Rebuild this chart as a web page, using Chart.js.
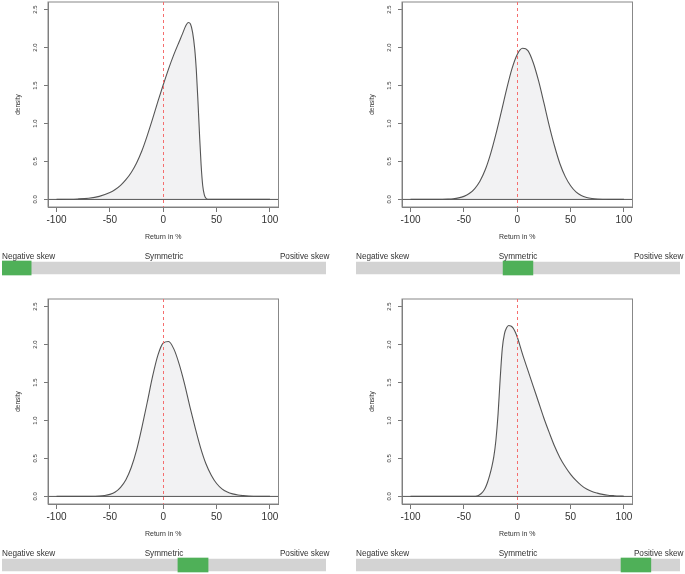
<!DOCTYPE html>
<html>
<head>
<meta charset="utf-8">
<script src="https://cdn.jsdelivr.net/npm/chart.js@4.4.0/dist/chart.umd.min.js"></script>
<style>
  body { margin: 0; background: #fff; width: 685px; height: 574px; position: relative; overflow: hidden;
         font-family: "Liberation Sans", Arial, sans-serif; }
  canvas { position: absolute; }
  .lab { position: absolute; font-size: 8.2px; line-height: 10px; height: 10px; color: #333; white-space: nowrap; }
</style>
</head>
<body>
<script>
// Axes
const xTicks = [-100, -50, 0, 50, 100]
const yTicks = [0, 0.5, 1, 1.5, 2, 2.5]
const skewLabels = ["Negative skew", "Symmetric", "Positive skew"]

// Position du marqueur vert sur la barre (0 = gauche, 1 = droite)
const skewLow = [0, 0.454, 0.543, 0.818]
const skewHigh = [0.09, 0.546, 0.636, 0.91]

// Panneau 1 : asymetrie negative
const p1X = [-100, -90, -80, -70, -60, -50, -45, -40, -35, -30, -25, -20, -15, -10, -5, 0, 5, 10, 15, 18, 21, 23.5, 25.5, 27.5, 29.5,
             31, 32.5, 34, 35.5, 37, 38.5, 40, 42, 45, 50, 60, 70, 80, 90, 100]
const p1Y = [0.0005, 0.002, 0.006, 0.016, 0.04, 0.09, 0.13, 0.185, 0.26, 0.355, 0.48, 0.64, 0.84, 1.06, 1.29, 1.51, 1.72, 1.91, 2.08, 2.18, 2.285, 2.33, 2.31, 2.2, 1.98,
             1.7, 1.3, 0.85, 0.45, 0.18, 0.06, 0.015, 0.002, 0, 0, 0, 0, 0, 0, 0]

// Panneaux 2 et 3 : pas de 5
const xStep5 = [-100, -95, -90, -85, -80, -75, -70, -65, -60, -55, -50, -45, -40, -35, -30, -25, -20, -15, -10, -5, 0,
                5, 10, 15, 20, 25, 30, 35, 40, 45, 50, 55, 60, 65, 70, 75, 80, 85, 90, 95, 100]
const p2Y = [0, 0, 0, 0.0001, 0.0002, 0.0006, 0.0015, 0.004, 0.009, 0.02, 0.04, 0.077, 0.14, 0.24, 0.39, 0.6, 0.86, 1.15, 1.45, 1.72, 1.91,
             1.99, 1.96, 1.8, 1.56, 1.27, 0.97, 0.7, 0.47, 0.3, 0.18, 0.1, 0.052, 0.026, 0.012, 0.005, 0.002, 0.001, 0, 0, 0]
const p3Y = [0, 0, 0, 0, 0, 0.0002, 0.0006, 0.002, 0.0045, 0.012, 0.027, 0.058, 0.12, 0.22, 0.38, 0.61, 0.91, 1.24, 1.58, 1.86, 2.02,
             2.04, 1.94, 1.74, 1.48, 1.18, 0.9, 0.64, 0.43, 0.28, 0.17, 0.1, 0.058, 0.033, 0.018, 0.01, 0.005, 0.0025, 0.001, 0.0005, 0]

// Panneau 4 : asymetrie positive
const p4X = [-100, -80, -60, -45, -40, -38, -36, -34, -32, -30, -28, -26, -24, -22, -20, -18, -16, -14, -12, -10, -8, -6, -4, -2, 0,
             5, 10, 15, 20, 25, 30, 35, 40, 45, 50, 55, 60, 65, 70, 75, 80, 85, 90, 95, 100]
const p4Y = [0, 0, 0, 0, 0, 0.004, 0.015, 0.035, 0.065, 0.11, 0.18, 0.27, 0.38, 0.52, 0.74, 1.08, 1.55, 1.95, 2.14, 2.22, 2.25, 2.245, 2.22, 2.17, 2.1,
             1.87, 1.66, 1.45, 1.24, 1.03, 0.84, 0.66, 0.51, 0.39, 0.29, 0.21, 0.145, 0.097, 0.064, 0.043, 0.027, 0.016, 0.01, 0.005, 0.003]

const panels = [[p1X, p1Y], [xStep5, p2Y], [xStep5, p3Y], [p4X, p4Y]]

const fam = '"Liberation Sans", Arial, sans-serif'

// Les elements facon R : ligne h=0, cadre, ligne pointillee rouge, labels y tournes
const rPlot = {
  id: "rPlot",
  afterDatasetsDraw(chart) {
    const { ctx, chartArea: a, scales: { y } } = chart
    ctx.save()
    ctx.lineWidth = 1
    const y0 = y.getPixelForValue(0)
    ctx.strokeStyle = "#555"
    ctx.beginPath(); ctx.moveTo(a.left, y0); ctx.lineTo(a.right, y0); ctx.stroke()
    ctx.strokeStyle = "#888"
    ctx.strokeRect(a.left, a.top, a.right - a.left, a.bottom - a.top)
    ctx.restore()
  },
  afterDraw(chart) {
    const { ctx, chartArea: a, scales: { x, y } } = chart
    ctx.save()
    // ligne verticale en x = 0
    const x0 = Math.round(x.getPixelForValue(0)) + 0.5
    ctx.lineWidth = 1
    ctx.strokeStyle = "rgb(245, 110, 110)"
    ctx.setLineDash([3, 3])
    ctx.beginPath(); ctx.moveTo(x0, a.top); ctx.lineTo(x0, a.bottom); ctx.stroke()
    ctx.setLineDash([])
    // labels de l'axe y, tournes comme dans R
    ctx.fillStyle = "#333"
    ctx.font = "6px " + fam
    ctx.textAlign = "center"
    ctx.textBaseline = "middle"
    yTicks.forEach(v => {
      ctx.save()
      ctx.translate(a.left - 13, y.getPixelForValue(v))
      ctx.rotate(-Math.PI / 2)
      ctx.fillText(v.toFixed(1), 0, 0)
      ctx.restore()
    })
    ctx.restore()
  }
}

function addCanvas(left, top, w, h) {
  const c = document.createElement("canvas")
  c.width = w; c.height = h
  c.style.left = left + "px"; c.style.top = top + "px"
  c.style.width = w + "px"; c.style.height = h + "px"
  document.body.appendChild(c)
  return c
}

function addLabel(text, left, top, align) {
  const d = document.createElement("div")
  d.className = "lab"
  d.textContent = text
  d.style.top = top + "px"
  if (align === "left") d.style.left = left + "px"
  else if (align === "right") d.style.right = (685 - left) + "px"
  else { d.style.left = (left - 50) + "px"; d.style.width = "100px"; d.style.textAlign = "center" }
  document.body.appendChild(d)
}

function densityChart(canvas, xs, ys) {
  const pts = xs.map((x, k) => ({ x: x, y: ys[k] }))
  return new Chart(canvas, {
    type: "line",
    data: {
      datasets: [{
        data: pts,
        borderColor: "#555",
        borderWidth: 1.1,
        backgroundColor: "#f2f2f3",
        fill: "origin",
        pointRadius: 0,
        cubicInterpolationMode: "monotone"
      }]
    },
    options: {
      responsive: false,
      animation: false,
      events: [],
      layout: { padding: { top: 2, right: 21.5, left: 0, bottom: 0 } },
      plugins: { legend: { display: false }, tooltip: { enabled: false } },
      scales: {
        x: {
          type: "linear", min: -108, max: 108,
          afterBuildTicks: s => { s.ticks = xTicks.map(v => ({ value: v })) },
          afterFit: s => { s.height = 38 },
          grid: { drawOnChartArea: false, tickLength: 5, color: "#777" },
          border: { color: "#777" },
          ticks: { color: "#333", padding: 2, maxRotation: 0, font: { size: 10, family: fam } },
          title: { display: true, text: "Return in %", color: "#333",
                   font: { size: 7, family: fam, lineHeight: 1 }, padding: { top: 0, bottom: 4.5 } }
        },
        y: {
          type: "linear", min: -0.1, max: 2.6,
          afterBuildTicks: s => { s.ticks = yTicks.map(v => ({ value: v })) },
          afterFit: s => { s.width = 48 },
          grid: { drawOnChartArea: false, tickLength: 4, color: "#777" },
          border: { color: "#777" },
          ticks: { display: false },
          title: { display: true, text: "density", color: "#333",
                   font: { size: 6.5, family: fam, lineHeight: 1 }, padding: { top: 14.5, bottom: 0 } }
        }
      }
    },
    plugins: [rPlot]
  })
}

function skewChart(canvas, i) {
  return new Chart(canvas, {
    type: "bar",
    data: {
      labels: ["skew"],
      datasets: [
        { data: [[skewLow[i], skewHigh[i]]], backgroundColor: "#4fb058", barThickness: 14, grouped: false },
        { data: [[0, 1]], backgroundColor: "#d3d3d3", barThickness: 12, grouped: false }
      ]
    },
    options: {
      indexAxis: "y",
      responsive: false,
      animation: false,
      events: [],
      layout: { padding: 0 },
      plugins: { legend: { display: false }, tooltip: { enabled: false } },
      scales: { x: { display: false, min: 0, max: 1 }, y: { display: false } }
    }
  })
}

panels.forEach((p, i) => {
  const ox = (i % 2) * 354
  const oy = Math.floor(i / 2) * 297
  densityChart(addCanvas(ox, oy, 300, 245), p[0], p[1])
  skewChart(addCanvas(ox + 2, oy + 259, 324, 18), i)
  addLabel(skewLabels[0], ox + 2, oy + 252, "left")
  addLabel(skewLabels[1], ox + 164, oy + 252, "center")
  addLabel(skewLabels[2], ox + 329.5, oy + 252, "right")
})
</script>
</body>
</html>
